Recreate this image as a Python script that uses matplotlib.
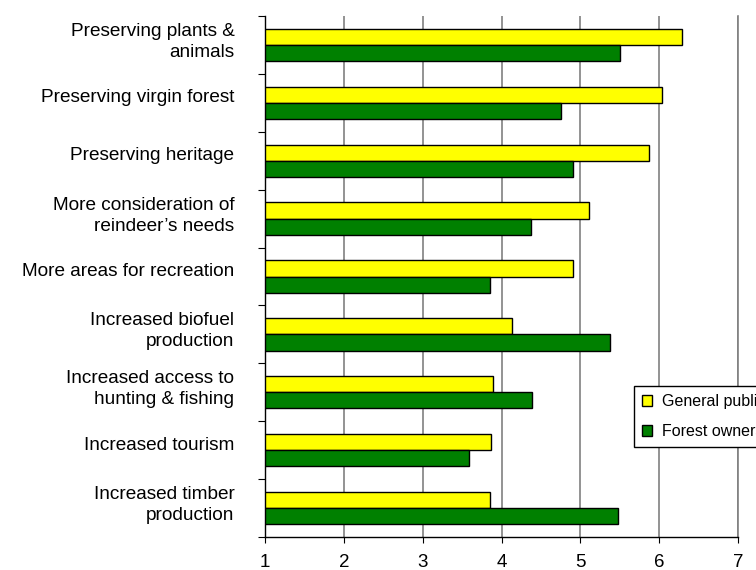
import numpy as np
import matplotlib
matplotlib.use('Agg')
import matplotlib.pyplot as plt
import matplotlib.transforms as mtransforms
from matplotlib.patches import Patch

# ── data ─────────────────────────────────────────────────────────────────────
categories = [
    'Preserving plants &\nanimals',
    'Preserving virgin forest',
    'Preserving heritage',
    'More consideration of\nreindeer\u2019s needs',
    'More areas for recreation',
    'Increased biofuel\nproduction',
    'Increased access to\nhunting & fishing',
    'Increased tourism',
    'Increased timber\nproduction',
]
general_public = [6.29, 6.03, 5.87, 5.11, 4.91, 4.13, 3.89, 3.87, 3.85]
forest_owners  = [5.50, 4.76, 4.91, 4.37, 3.85, 5.38, 4.39, 3.59, 5.48]
series_names   = ['General public', 'Forest owners']
x_ticks        = [1, 2, 3, 4, 5, 6, 7]

# ── style ────────────────────────────────────────────────────────────────────
YELLOW = '#FFFF00'
GREEN  = '#008000'
GRID   = '#808080'
plt.rcParams['font.family'] = ['Liberation Sans', 'DejaVu Sans']

fig = plt.figure(figsize=(7.56, 5.70), dpi=100, facecolor='white')
ax = fig.add_axes([265/756, 1 - 537/570, (738 - 265)/756, (537 - 16)/570])

y = np.arange(len(categories))
h = 0.28
ax.barh(y - h/2, general_public, height=h, color=YELLOW, edgecolor='black', lw=1.0, zorder=3)
ax.barh(y + h/2, forest_owners,  height=h, color=GREEN,  edgecolor='black', lw=1.0, zorder=3)

ax.set_xlim(x_ticks[0], x_ticks[-1])
ax.set_ylim(len(categories) - 0.5, -0.5)

# x axis
ax.set_xticks(x_ticks)
ax.set_xticklabels([str(t) for t in x_ticks], fontsize=13.5)
ax.tick_params(axis='x', direction='out', length=4, width=0.8, pad=8, color='black')
ax.xaxis.grid(True, color=GRID, lw=1.2, zorder=1)

# y axis: labels at category centres, ticks at boundaries
ax.set_yticks(y)
ax.set_yticklabels(categories, fontsize=13.7, linespacing=1.3)
ax.tick_params(axis='y', which='major', length=0, pad=22)
ax.set_yticks(np.arange(-0.5, len(categories), 1), minor=True)
ax.tick_params(axis='y', which='minor', direction='out', length=5, width=0.8, color='black')
shift = mtransforms.ScaledTranslation(0, 0.07, fig.dpi_scale_trans)
for lab in ax.get_yticklabels():
    lab.set_transform(lab.get_transform() + shift)

ax.spines['top'].set_visible(False)
ax.spines['right'].set_color(GRID)
ax.spines['right'].set_linewidth(1.2)
for s in ['left', 'bottom']:
    ax.spines[s].set_color('black')
    ax.spines[s].set_linewidth(1.0)
    ax.spines[s].set_zorder(4)

# legend (runs off the right edge, as in the reference)
handles = [Patch(facecolor=YELLOW, edgecolor='black', lw=1.0),
           Patch(facecolor=GREEN, edgecolor='black', lw=1.0)]
leg = fig.legend(handles, series_names, loc='upper left',
                 bbox_to_anchor=(634/756, 1 - 386/570), fontsize=11.5,
                 frameon=True, fancybox=False, framealpha=1, edgecolor='black',
                 handlelength=0.65, handleheight=0.75, handletextpad=0.6,
                 labelspacing=0.95, borderpad=0.5, borderaxespad=0)
leg.get_frame().set_linewidth(1.0)

fig.savefig('out.png', dpi=100, facecolor='white')
